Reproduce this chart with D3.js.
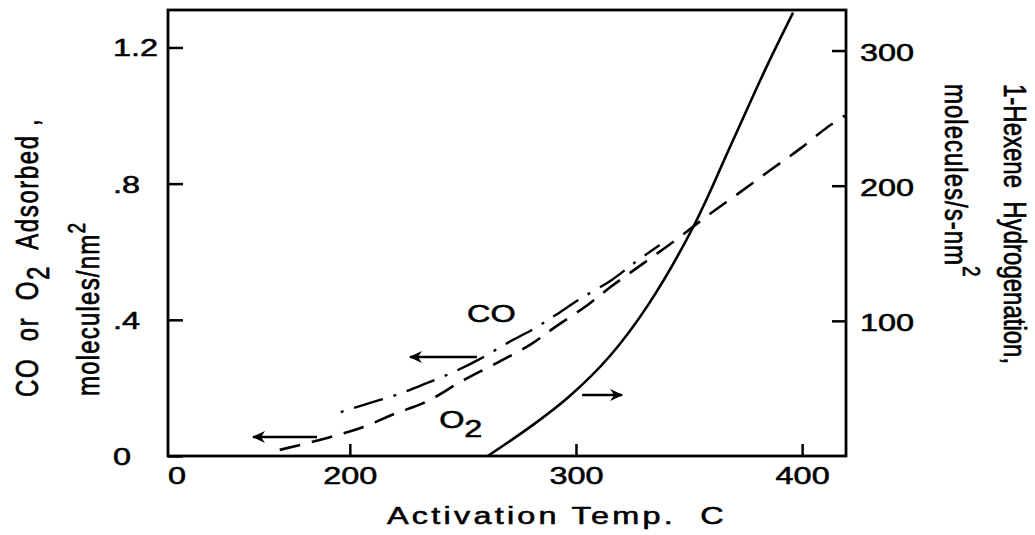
<!DOCTYPE html>
<html><head><meta charset="utf-8">
<script src="https://cdn.jsdelivr.net/npm/d3@7"></script>
<style>
body{margin:0;background:#fff;}
svg{display:block;background:#fff;}
text{font-family:"Liberation Sans", Arial, sans-serif; fill:#000; stroke:#000; stroke-width:0.55px;}
</style></head><body>
<svg id="chart" width="1035" height="535"></svg>
<script>
// ---- data ----
const hexeneTemp = [261, 281, 297, 315, 332, 352, 369, 384, 396];
const hexeneRate = [0, 23, 44, 74, 112, 170, 232, 287, 328];

const o2Temp = [169, 190, 206, 219, 234, 249, 264, 280, 290, 305, 316, 329, 344, 358, 372, 386, 399, 411, 419];
const o2Adsorbed = [0.018, 0.053, 0.085, 0.122, 0.16, 0.218, 0.27, 0.328, 0.375, 0.443, 0.5, 0.562, 0.634, 0.705, 0.772, 0.84, 0.902, 0.965, 1.0];

const coTemp = [196, 209, 222, 234, 246, 257, 270, 282, 291, 302, 316, 326, 337];
const coAdsorbed = [0.129, 0.156, 0.183, 0.214, 0.247, 0.283, 0.333, 0.376, 0.414, 0.462, 0.518, 0.568, 0.62];

const xTickValues = [200, 300, 400];
const xTickLabels = ["200", "300", "400"];
const xOriginLabel = "0";
const leftTickValues = [0, 0.4, 0.8, 1.2];
const leftTickLabels = ["0", ".4", ".8", "1.2"];
const rightTickValues = [100, 200, 300];
const rightTickLabels = ["100", "200", "300"];

// annotation arrows (data units, left axis): [fromTemp, toTemp, value]
const arrowO2 = [185.5, 157.2, 0.056];
const arrowCO = [256.2, 226.6, 0.291];
const arrowHex = [302.7, 320.4, 0.179];
// annotation labels (data units, left axis)
const labelCO = [262.6, 0.394];
const labelO2 = [239.5, 0.082];

// ---- layout ----
const W = 1035, H = 535;
const L = 168, R = 846, T = 10, B = 456;
const SX = 1.35; // horizontal stretch of lettering
const SR = 1.3;  // stretch of rotated lettering
const FS = 24;

const svg = d3.select("#chart");
const x = d3.scaleLinear().domain([119.6, 419.4]).range([L, R]);
const yL = d3.scaleLinear().domain([0, 1.31]).range([B, T]);
const yR = d3.scaleLinear().domain([0, 330]).range([B, T]);

// arrow marker
const defs = svg.append("defs");
defs.append("marker").attr("id", "ah").attr("markerUnits", "userSpaceOnUse")
  .attr("viewBox", "-12 -7 14 14").attr("refX", 0).attr("refY", 0)
  .attr("markerWidth", 14).attr("markerHeight", 14).attr("orient", "auto")
  .append("path").attr("d", "M-12,-6 L1,0 L-12,6 L-8,0 Z").attr("fill", "#000");

// frame
svg.append("rect").attr("x", L).attr("y", T).attr("width", R - L).attr("height", B - T)
  .attr("fill", "none").attr("stroke", "#000").attr("stroke-width", 2.8);

// axes
const gL = svg.append("g").attr("transform", `translate(${L},0)`)
  .call(d3.axisLeft(yL).tickValues(leftTickValues).tickSizeInner(-15).tickSizeOuter(0)
    .tickFormat((d, i) => leftTickLabels[i]));
const gR = svg.append("g").attr("transform", `translate(${R},0)`)
  .call(d3.axisRight(yR).tickValues(rightTickValues).tickSizeInner(-14).tickSizeOuter(0)
    .tickFormat((d, i) => rightTickLabels[i]));
const gB = svg.append("g").attr("transform", `translate(0,${B})`)
  .call(d3.axisBottom(x).tickValues(xTickValues).tickSizeInner(-12).tickSizeOuter(0)
    .tickFormat((d, i) => xTickLabels[i]));

[gL, gR, gB].forEach(g => {
  g.select(".domain").remove();
  g.selectAll(".tick line").attr("stroke", "#000").attr("stroke-width", 2.5);
  g.selectAll("text").attr("font-size", FS).attr("font-family", null).attr("fill", "#000");
});
gL.selectAll("text").attr("text-anchor", "start").attr("x", -55 / SX).attr("dy", "0.35em")
  .attr("transform", `scale(${SX},1)`);
gR.selectAll("text").attr("text-anchor", "start").attr("x", 14 / SX).attr("dy", "0.4em")
  .attr("transform", `scale(${SX},1)`);
gB.selectAll("text").attr("text-anchor", "middle").attr("y", 28).attr("dy", 0)
  .attr("transform", `scale(${SX},1)`);
// origin label of broken x-axis
svg.append("text").attr("transform", `translate(${x.range()[0] + 9},${B + 28}) scale(${SX},1)`)
  .attr("text-anchor", "middle").attr("font-size", FS).text(xOriginLabel);

// curves
const lineL = d3.line().x(d => x(d[0])).y(d => yL(d[1])).curve(d3.curveCatmullRom.alpha(0.5));
const lineR = d3.line().x(d => x(d[0])).y(d => yR(d[1])).curve(d3.curveCatmullRom.alpha(0.5));

svg.append("path").datum(d3.zip(hexeneTemp, hexeneRate)).attr("d", lineR)
  .attr("fill", "none").attr("stroke", "#000").attr("stroke-width", 2.6);
svg.append("path").datum(d3.zip(o2Temp, o2Adsorbed)).attr("d", lineL)
  .attr("fill", "none").attr("stroke", "#000").attr("stroke-width", 2.6)
  .attr("stroke-dasharray", "21,12");
svg.append("path").datum(d3.zip(coTemp, coAdsorbed)).attr("d", lineL)
  .attr("fill", "none").attr("stroke", "#000").attr("stroke-width", 2.4)
  .attr("stroke-dasharray", "3,11,30,11");

// arrows
[arrowO2, arrowCO, arrowHex].forEach(a => {
  svg.append("line").attr("x1", x(a[0])).attr("x2", x(a[1]))
    .attr("y1", yL(a[2])).attr("y2", yL(a[2]))
    .attr("stroke", "#000").attr("stroke-width", 2.6).attr("marker-end", "url(#ah)");
});

// in-plot labels
svg.append("text").attr("transform", `translate(${x(labelCO[0])},${yL(labelCO[1])}) scale(${SX},1)`)
  .attr("text-anchor", "middle").attr("font-size", FS).text("CO");
const tO2 = svg.append("text").attr("transform", `translate(${x(labelO2[0])},${yL(labelO2[1])}) scale(${SX},1)`)
  .attr("text-anchor", "start").attr("font-size", FS);
tO2.append("tspan").text("O");
tO2.append("tspan").attr("dy", 9).text("2");

// x-axis title
svg.append("text").attr("transform", `translate(${(384 + 730) / 2},524) scale(${SX},1)`)
  .attr("text-anchor", "middle").attr("font-size", FS).attr("letter-spacing", 2.4)
  .style("white-space", "pre").text("Activation Temp.  C");

// left title (two lines, reading upward)
const lt1 = svg.append("text").attr("transform", `translate(37.5,397) rotate(-90) scale(1,${SR})`)
  .attr("font-size", FS).attr("letter-spacing", 1.6).style("white-space", "pre");
lt1.append("tspan").text("CO  or  O");
lt1.append("tspan").attr("dy", 9).text("2");
lt1.append("tspan").attr("dy", -9).text("  Adsorbed ,");
const lt2 = svg.append("text").attr("transform", `translate(99,396) rotate(-90) scale(1,${SR})`)
  .attr("font-size", FS).attr("letter-spacing", 1.2);
lt2.append("tspan").text("molecules/nm");
lt2.append("tspan").attr("dy", -11).attr("font-size", 19).text("2");

// right title (two lines, reading downward)
svg.append("text").attr("transform", `translate(1004,84) rotate(90) scale(1,${SR})`)
  .attr("font-size", FS).style("white-space", "pre").text("1-Hexene  Hydrogenation,");
const rt2 = svg.append("text").attr("transform", `translate(945,84) rotate(90) scale(1,${SR})`)
  .attr("font-size", FS).attr("letter-spacing", 1);
rt2.append("tspan").text("molecules/s-nm");
rt2.append("tspan").attr("dy", -14).attr("font-size", 19).text("2");
</script>
</body></html>
